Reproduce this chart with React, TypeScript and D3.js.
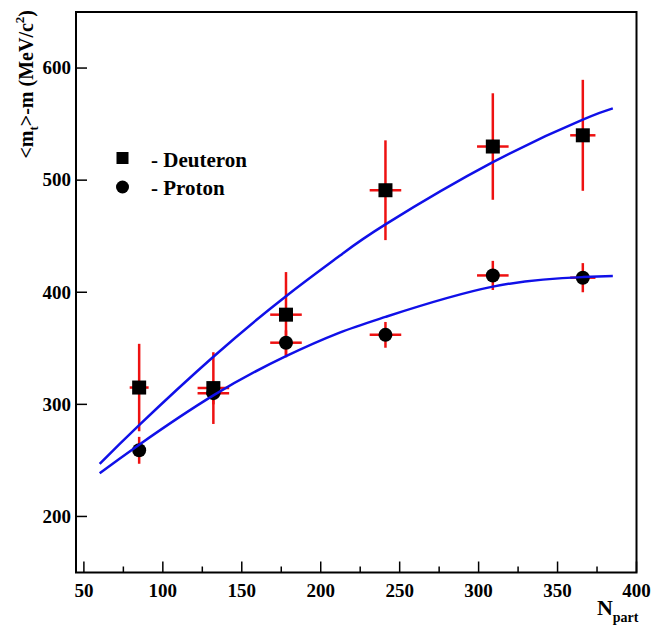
import React, { useEffect, useRef } from "react";
import * as d3 from "d3";

// data
const nPart = [85, 132, 178, 241, 309, 366];

const deuteronMt = [315, 314.5, 380, 491, 530, 540];
const deuteronErrY = [39, 32, 38, 44.5, 47.5, 49.5];
const deuteronErrX = [6, 10, 10, 10, 10, 8];

const protonMt = [259, 310, 355, 362, 415, 413];
const protonErrY = [12, 10, 11, 11.5, 13, 13];
const protonErrX = [4, 10, 10, 10, 10, 8];

// fit curves
const fitN = [60, 85, 132, 178, 212, 241, 309, 366, 385];
const deuteronFit = [247, 281.5, 342.5, 396.5, 432.5, 460.5, 516, 554, 564];
const protonFit = [238.5, 264, 308, 343, 364, 378, 405, 413.5, 414.5];

const xTicks = [50, 100, 150, 200, 250, 300, 350, 400];
const xMinorTicks = [75, 125, 175, 225, 275, 325, 375];
const yTicks = [200, 300, 400, 500, 600];

const App = () => {
  const svgRef = useRef<SVGSVGElement>(null);

  useEffect(() => {
    const width = 652;
    const height = 625;
    const left = 76;
    const right = 636.5;
    const top = 12;
    const bottom = 572.5;
    const font = "'Liberation Serif', 'Times New Roman', serif";

    const x = d3.scaleLinear().domain([45, 400]).range([left, right]);
    const y = d3.scaleLinear().domain([150, 650]).range([bottom, top]);

    const svg = d3
      .select(svgRef.current)
      .attr("width", width)
      .attr("height", height)
      .attr("viewBox", [0, 0, width, height].join(" "))
      .style("position", "absolute")
      .style("left", "0px")
      .style("top", "0px")
      .style("background", "#fff");

    svg.selectAll("*").remove();

    // frame
    svg
      .append("rect")
      .attr("x", left)
      .attr("y", top)
      .attr("width", right - left)
      .attr("height", bottom - top)
      .attr("fill", "none")
      .attr("stroke", "#000")
      .attr("stroke-width", 2);

    // x ticks (inward)
    svg
      .append("g")
      .selectAll("line")
      .data(xTicks)
      .join("line")
      .attr("x1", (d) => x(d))
      .attr("x2", (d) => x(d))
      .attr("y1", bottom)
      .attr("y2", bottom - 11)
      .attr("stroke", "#000")
      .attr("stroke-width", 1.5);

    svg
      .append("g")
      .selectAll("line")
      .data(xMinorTicks)
      .join("line")
      .attr("x1", (d) => x(d))
      .attr("x2", (d) => x(d))
      .attr("y1", bottom)
      .attr("y2", bottom - 6)
      .attr("stroke", "#000")
      .attr("stroke-width", 1.5);

    svg
      .append("g")
      .selectAll("text")
      .data(xTicks)
      .join("text")
      .attr("x", (d) => x(d))
      .attr("y", 597)
      .attr("text-anchor", "middle")
      .attr("font-family", font)
      .attr("font-weight", "bold")
      .attr("font-size", 19)
      .text((d) => d);

    // y ticks
    svg
      .append("g")
      .selectAll("line")
      .data(yTicks)
      .join("line")
      .attr("x1", left)
      .attr("x2", left + 11)
      .attr("y1", (d) => y(d))
      .attr("y2", (d) => y(d))
      .attr("stroke", "#000")
      .attr("stroke-width", 1.5);

    svg
      .append("g")
      .selectAll("text")
      .data(yTicks)
      .join("text")
      .attr("x", 71)
      .attr("y", (d) => y(d))
      .attr("dy", "0.33em")
      .attr("text-anchor", "end")
      .attr("font-family", font)
      .attr("font-weight", "bold")
      .attr("font-size", 19)
      .text((d) => d);

    // axis titles
    const xt = svg
      .append("text")
      .attr("x", right + 2)
      .attr("y", 615)
      .attr("text-anchor", "end")
      .attr("font-family", font)
      .attr("font-weight", "bold")
      .attr("font-size", 22);
    xt.append("tspan").text("N");
    xt.append("tspan").attr("font-size", 14).attr("dy", 7).text("part");

    const yt = svg
      .append("text")
      .attr("transform", "translate(33,10) rotate(-90)")
      .attr("text-anchor", "end")
      .attr("font-family", font)
      .attr("font-weight", "bold")
      .attr("font-size", 20);
    yt.append("tspan").text("<m");
    yt.append("tspan").attr("font-size", 13).attr("dy", 5).text("t");
    yt.append("tspan").attr("dy", -5).text(">-m (MeV/c");
    yt.append("tspan").attr("font-size", 13).attr("dy", -9).text("2");
    yt.append("tspan").attr("dy", 9).text(")");

    // error bars
    const drawErrors = (vals: number[], ex: number[], ey: number[]) => {
      const g = svg
        .append("g")
        .attr("stroke", "#ee1111")
        .attr("stroke-width", 2.5);
      nPart.forEach((n, i) => {
        g.append("line")
          .attr("x1", x(n))
          .attr("x2", x(n))
          .attr("y1", y(vals[i] - ey[i]))
          .attr("y2", y(vals[i] + ey[i]));
        g.append("line")
          .attr("x1", x(n - ex[i]))
          .attr("x2", x(n + ex[i]))
          .attr("y1", y(vals[i]))
          .attr("y2", y(vals[i]));
      });
    };
    drawErrors(deuteronMt, deuteronErrX, deuteronErrY);
    drawErrors(protonMt, protonErrX, protonErrY);

    // markers
    const sq = 14;
    svg
      .append("g")
      .selectAll("rect")
      .data(nPart)
      .join("rect")
      .attr("x", (d) => x(d) - sq / 2)
      .attr("y", (d, i) => y(deuteronMt[i]) - sq / 2)
      .attr("width", sq)
      .attr("height", sq)
      .attr("fill", "#000");

    svg
      .append("g")
      .selectAll("circle")
      .data(nPart)
      .join("circle")
      .attr("cx", (d) => x(d))
      .attr("cy", (d, i) => y(protonMt[i]))
      .attr("r", 7)
      .attr("fill", "#000");

    // fit curves
    const line = d3
      .line<number>()
      .x((d, i) => x(fitN[i]))
      .y((d) => y(d))
      .curve(d3.curveNatural);

    [deuteronFit, protonFit].forEach((f) => {
      svg
        .append("path")
        .attr("d", line(f))
        .attr("fill", "none")
        .attr("stroke", "#1010e8")
        .attr("stroke-width", 2.5);
    });

    // legend
    svg
      .append("rect")
      .attr("x", 116.5)
      .attr("y", 152)
      .attr("width", 12)
      .attr("height", 12)
      .attr("fill", "#000");
    svg
      .append("circle")
      .attr("cx", 122.5)
      .attr("cy", 187)
      .attr("r", 6.5)
      .attr("fill", "#000");
    svg
      .append("text")
      .attr("x", 151)
      .attr("y", 166.5)
      .attr("font-family", font)
      .attr("font-weight", "bold")
      .attr("font-size", 21)
      .text("- Deuteron");
    svg
      .append("text")
      .attr("x", 151)
      .attr("y", 194.5)
      .attr("font-family", font)
      .attr("font-weight", "bold")
      .attr("font-size", 21)
      .text("- Proton");
  }, []);

  return <svg ref={svgRef} />;
};

export default App;
